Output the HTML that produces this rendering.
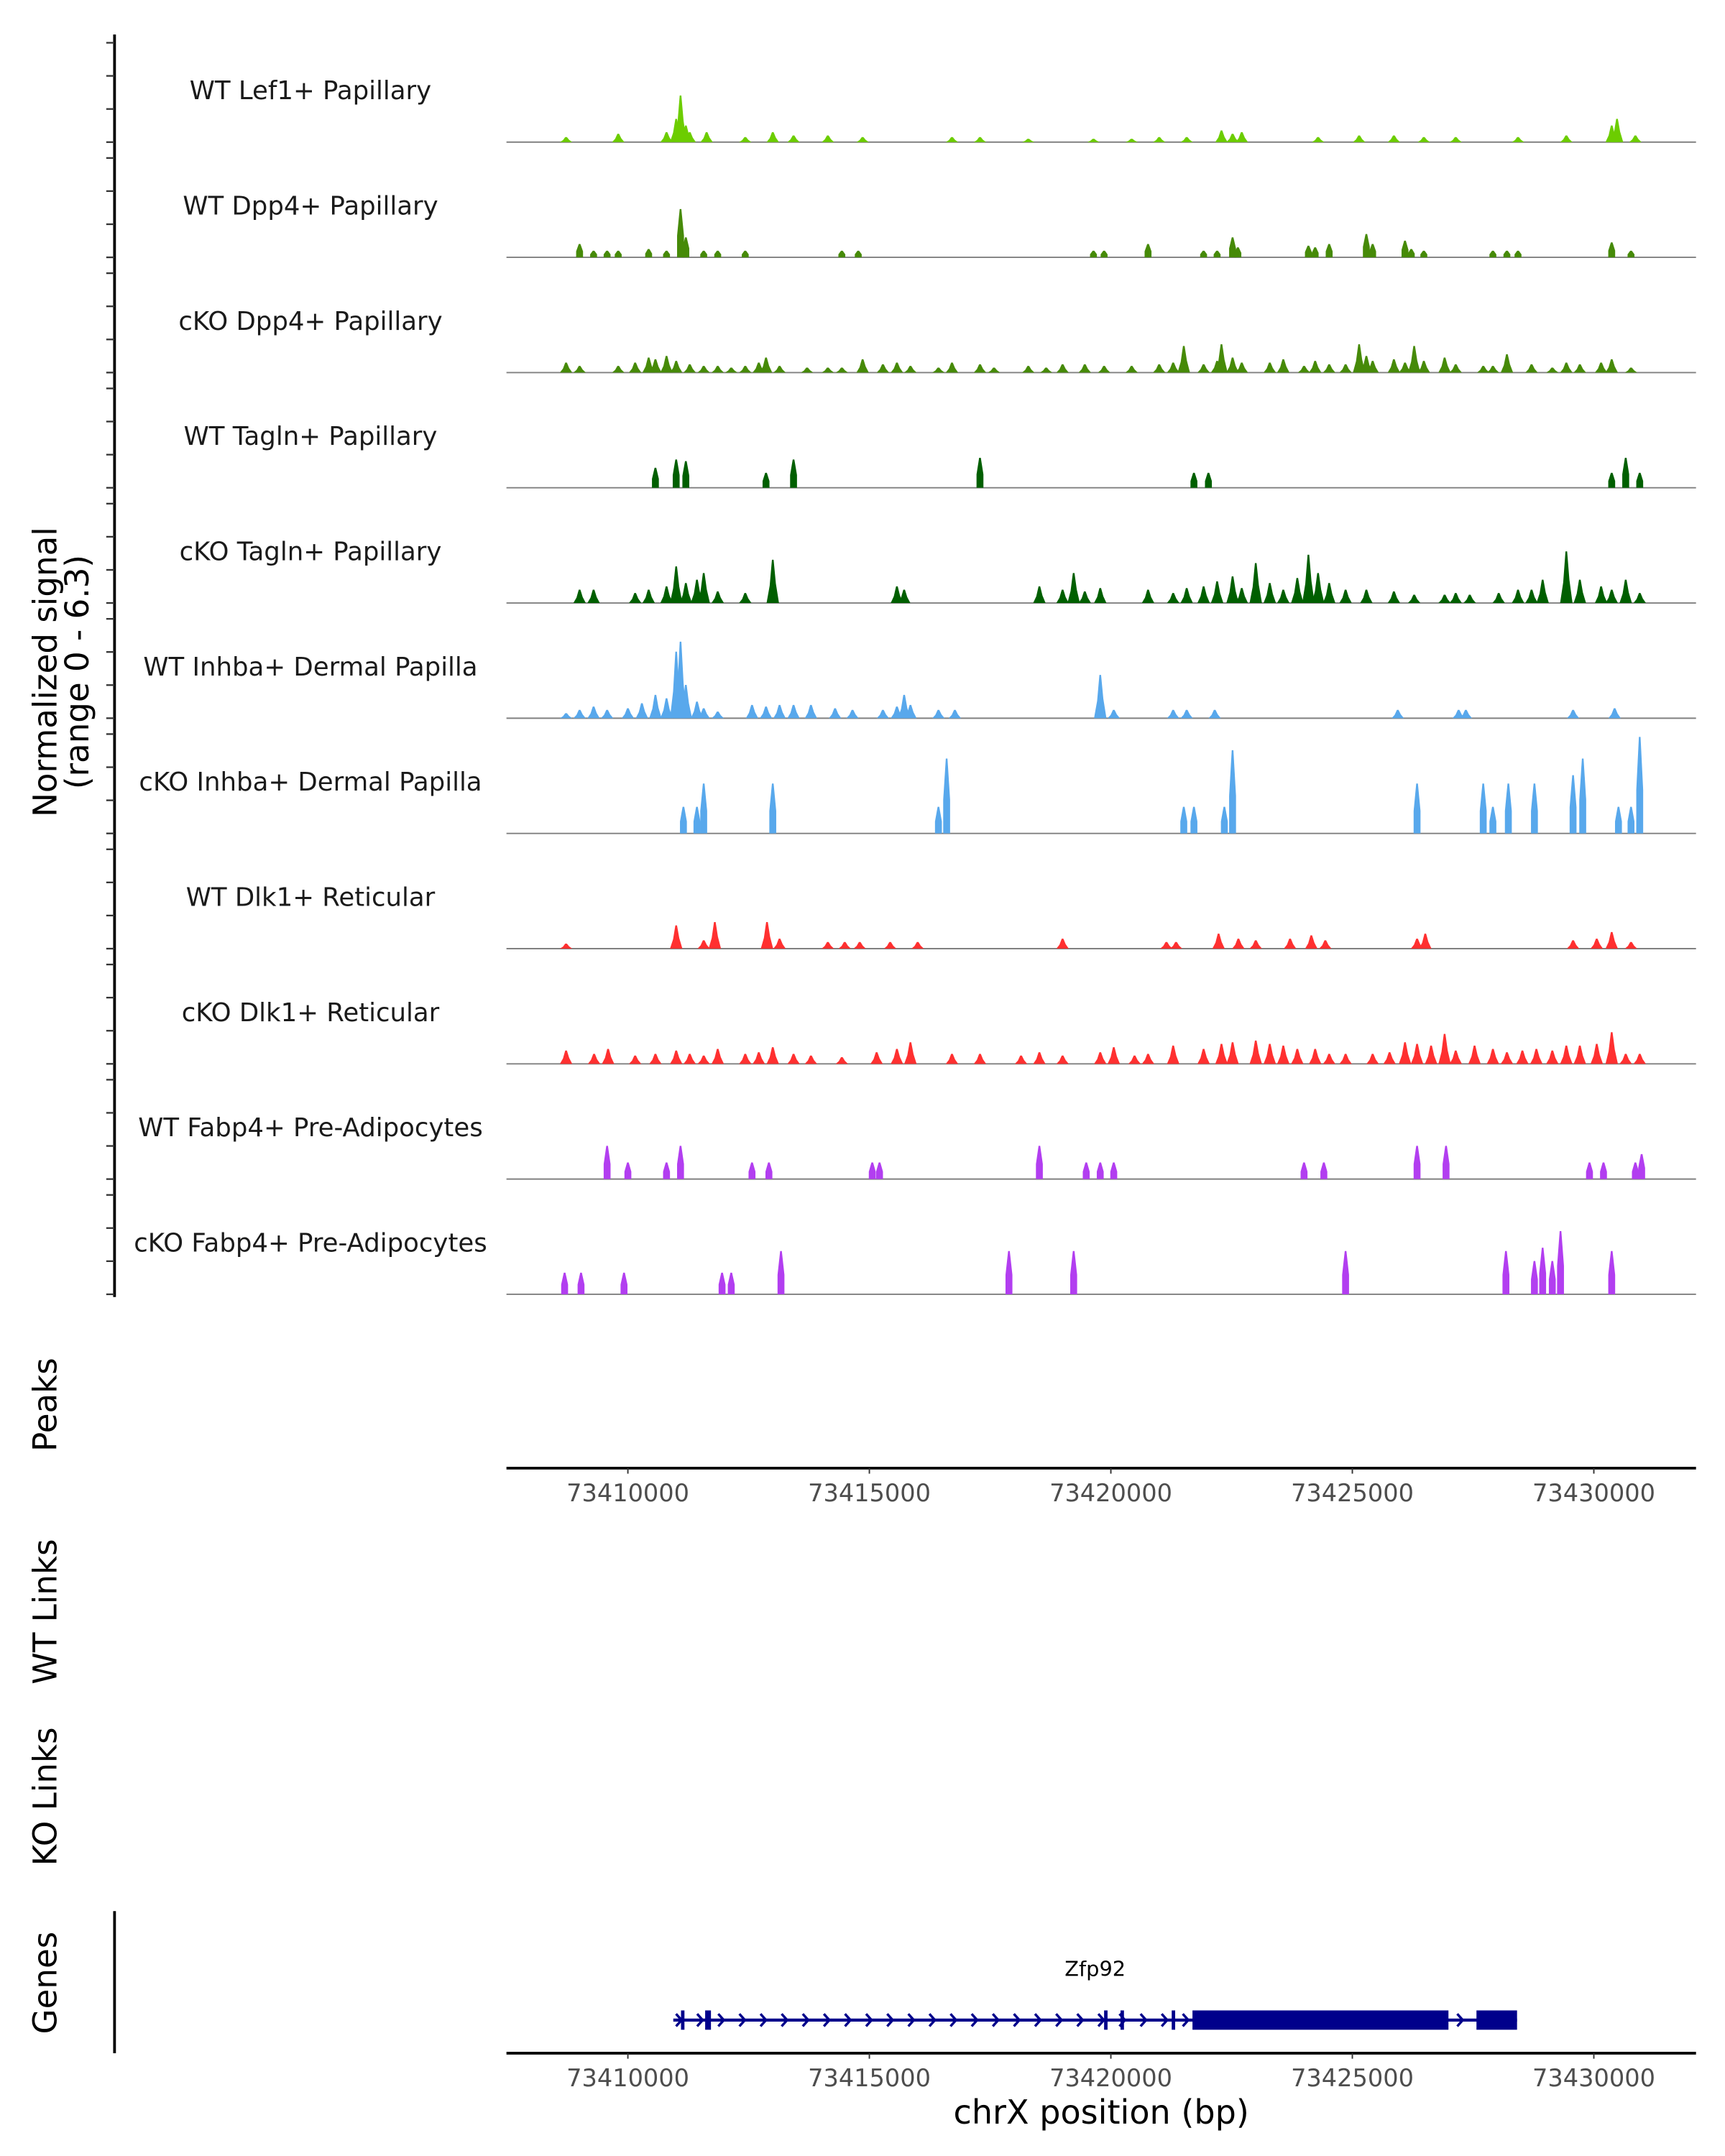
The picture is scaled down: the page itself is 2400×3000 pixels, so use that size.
<!DOCTYPE html>
<html><head><meta charset="utf-8"><style>
html,body{margin:0;padding:0;background:#fff;}
svg{display:block;font-family:"DejaVu Sans","Liberation Sans",sans-serif;}
</style></head><body>
<svg id="chart" width="2400" height="3000" viewBox="0 0 1250 1562.5" xmlns="http://www.w3.org/2000/svg">
<g id="axes"></g>
<g id="tracks"></g>
<g id="genes"></g>
</svg>
<script>
const trackNames = ["WT Lef1+ Papillary","WT Dpp4+ Papillary","cKO Dpp4+ Papillary","WT Tagln+ Papillary","cKO Tagln+ Papillary","WT Inhba+ Dermal Papilla","cKO Inhba+ Dermal Papilla","WT Dlk1+ Reticular","cKO Dlk1+ Reticular","WT Fabp4+ Pre-Adipocytes","cKO Fabp4+ Pre-Adipocytes"];
const trackColors = ["#6ccd00","#468a08","#468a08","#005f00","#005f00","#58a8ec","#58a8ec","#ff3030","#ff3030","#b23ef0","#b23ef0"];
const trackBlock = [false,true,false,true,false,false,true,false,false,true,true];
// peaks: [kb offset from 73400000, normalized signal]
const t0 = [[8.72,0.3],[9.80,0.5],[10.80,0.6],[11.00,1.4],[11.09,2.8],[11.20,1.0],[11.28,0.6],[11.63,0.6],[12.43,0.3],[13.00,0.6],[13.43,0.4],[14.14,0.4],[14.86,0.3],[16.71,0.3],[17.29,0.3],[18.29,0.2],[19.64,0.2],[20.43,0.2],[21.00,0.3],[21.57,0.3],[22.29,0.7],[22.52,0.5],[22.71,0.6],[24.29,0.3],[25.14,0.4],[25.86,0.4],[26.48,0.3],[27.14,0.3],[28.43,0.3],[29.43,0.4],[30.37,1.0],[30.48,1.4],[30.86,0.4]];
const t1 = [[9.00,0.8],[9.29,0.4],[9.57,0.4],[9.80,0.4],[10.43,0.5],[10.80,0.4],[11.09,2.9],[11.20,1.2],[11.57,0.4],[11.86,0.4],[12.43,0.4],[14.43,0.4],[14.77,0.4],[19.64,0.4],[19.86,0.4],[20.77,0.8],[21.92,0.4],[22.20,0.4],[22.52,1.2],[22.63,0.6],[24.09,0.7],[24.23,0.6],[24.52,0.8],[25.29,1.4],[25.42,0.8],[26.09,1.0],[26.22,0.5],[26.48,0.4],[27.91,0.4],[28.20,0.4],[28.43,0.4],[30.37,0.9],[30.77,0.4]];
const t2 = [[8.72,0.6],[9.00,0.4],[9.80,0.4],[10.15,0.6],[10.43,0.9],[10.57,0.8],[10.80,1.0],[11.00,0.7],[11.28,0.5],[11.57,0.4],[11.86,0.4],[12.14,0.3],[12.43,0.4],[12.71,0.6],[12.86,0.9],[13.14,0.4],[13.71,0.3],[14.14,0.3],[14.43,0.3],[14.86,0.8],[15.28,0.5],[15.57,0.6],[15.85,0.4],[16.43,0.3],[16.71,0.6],[17.29,0.5],[17.58,0.3],[18.29,0.4],[18.66,0.3],[19.00,0.5],[19.46,0.5],[19.86,0.4],[20.43,0.4],[21.00,0.5],[21.29,0.6],[21.51,1.6],[21.92,0.5],[22.20,0.7],[22.29,1.7],[22.52,0.9],[22.71,0.6],[23.29,0.6],[23.57,0.8],[24.00,0.4],[24.23,0.7],[24.52,0.5],[24.86,0.5],[25.14,1.7],[25.29,1.0],[25.42,0.7],[25.86,0.8],[26.09,0.6],[26.28,1.6],[26.48,0.7],[26.91,0.9],[27.14,0.5],[27.71,0.4],[27.91,0.4],[28.20,1.1],[28.71,0.5],[29.14,0.3],[29.43,0.6],[29.71,0.5],[30.15,0.6],[30.37,0.8],[30.77,0.3]];
const t3 = [[10.57,1.2],[11.00,1.7],[11.20,1.6],[12.86,0.9],[13.43,1.7],[17.29,1.8],[21.72,0.9],[22.02,0.9],[30.37,0.9],[30.66,1.8],[30.95,0.9]];
const t4 = [[9.00,0.8],[9.29,0.8],[10.15,0.6],[10.43,0.8],[10.80,1.0],[11.00,2.2],[11.20,1.2],[11.43,1.4],[11.57,1.8],[11.86,0.7],[12.43,0.6],[13.00,2.6],[15.57,1.0],[15.72,0.8],[18.52,1.0],[19.00,0.8],[19.23,1.8],[19.46,0.7],[19.78,0.9],[20.77,0.8],[21.29,0.6],[21.57,0.9],[21.92,1.0],[22.20,1.3],[22.52,1.6],[22.71,0.9],[23.00,2.4],[23.29,1.2],[23.57,0.8],[23.86,1.5],[24.09,2.9],[24.29,1.8],[24.52,1.2],[24.86,0.8],[25.29,0.8],[25.86,0.7],[26.28,0.5],[26.91,0.5],[27.14,0.6],[27.43,0.5],[28.03,0.6],[28.43,0.8],[28.71,0.8],[28.94,1.4],[29.43,3.1],[29.71,1.4],[30.15,1.0],[30.37,0.8],[30.66,1.4],[30.95,0.6]];
const t5 = [[8.72,0.3],[9.00,0.5],[9.29,0.7],[9.57,0.5],[10.00,0.6],[10.29,0.9],[10.57,1.4],[10.80,1.2],[11.00,4.0],[11.09,4.6],[11.20,2.0],[11.43,1.0],[11.57,0.6],[11.86,0.4],[12.57,0.8],[12.86,0.7],[13.14,0.8],[13.43,0.8],[13.79,0.8],[14.29,0.6],[14.65,0.5],[15.28,0.5],[15.57,0.7],[15.72,1.4],[15.85,0.8],[16.43,0.5],[16.77,0.5],[19.78,2.6],[20.06,0.5],[21.29,0.5],[21.57,0.5],[22.15,0.5],[25.94,0.5],[27.20,0.5],[27.35,0.5],[29.57,0.5],[30.43,0.6]];
const t6 = [[11.15,1.6],[11.43,1.6],[11.57,3.0],[13.00,3.0],[16.43,1.6],[16.60,4.5],[21.51,1.6],[21.72,1.6],[22.35,1.6],[22.52,5.0],[26.34,3.0],[27.71,3.0],[27.91,1.6],[28.23,3.0],[28.77,3.0],[29.57,3.5],[29.77,4.5],[30.51,1.6],[30.77,1.6],[30.95,5.8]];
const t7 = [[8.72,0.3],[11.00,1.4],[11.57,0.5],[11.80,1.6],[12.88,1.6],[13.14,0.6],[14.14,0.4],[14.49,0.4],[14.80,0.4],[15.43,0.4],[16.00,0.4],[19.00,0.6],[21.15,0.4],[21.35,0.4],[22.23,0.9],[22.64,0.6],[23.00,0.5],[23.71,0.6],[24.15,0.8],[24.44,0.5],[26.34,0.6],[26.51,0.9],[29.57,0.5],[30.06,0.6],[30.37,1.0],[30.77,0.4]];
const t8 = [[8.72,0.8],[9.30,0.6],[9.59,0.9],[10.15,0.5],[10.57,0.6],[11.00,0.8],[11.28,0.6],[11.57,0.5],[11.86,0.9],[12.43,0.6],[12.71,0.7],[13.00,1.0],[13.43,0.6],[13.79,0.5],[14.43,0.4],[15.15,0.7],[15.57,0.9],[15.85,1.3],[16.71,0.6],[17.29,0.6],[18.14,0.5],[18.52,0.7],[19.00,0.5],[19.78,0.7],[20.06,1.0],[20.49,0.5],[20.77,0.6],[21.29,1.1],[21.92,0.9],[22.29,1.2],[22.52,1.3],[23.00,1.4],[23.29,1.2],[23.57,1.1],[23.86,0.9],[24.23,0.9],[24.52,0.6],[24.86,0.6],[25.42,0.6],[25.77,0.7],[26.09,1.3],[26.34,1.2],[26.63,1.1],[26.91,1.8],[27.14,0.8],[27.53,1.1],[27.91,0.9],[28.20,0.7],[28.52,0.8],[28.81,0.9],[29.14,0.8],[29.43,1.1],[29.71,1.1],[30.06,1.2],[30.37,1.9],[30.66,0.6],[30.95,0.6]];
const t9 = [[9.57,2.0],[10.00,1.0],[10.80,1.0],[11.09,2.0],[12.57,1.0],[12.92,1.0],[15.06,1.0],[15.21,1.0],[18.52,2.0],[19.49,1.0],[19.78,1.0],[20.06,1.0],[24.00,1.0],[24.41,1.0],[26.34,2.0],[26.94,2.0],[29.91,1.0],[30.20,1.0],[30.86,1.0],[30.99,1.5]];
const t10 = [[8.69,1.3],[9.03,1.3],[9.92,1.3],[11.95,1.3],[12.14,1.3],[13.17,2.6],[17.89,2.6],[19.23,2.6],[24.86,2.6],[28.18,2.6],[28.77,2.0],[28.94,2.8],[29.14,2.0],[29.31,3.8],[30.37,2.6]];
const trackData = [t0,t1,t2,t3,t4,t5,t6,t7,t8,t9,t10];
const tickValues = [73410000,73415000,73420000,73425000,73430000];
const geneName = "Zfp92";
const geneStart = 10.94, geneEnd = 28.41;
const geneExons = [[11.10,11.16],[11.60,11.72],[19.86,19.92],[20.20,20.26],[21.26,21.32],[21.69,26.99],[27.57,28.41]];

const NS="http://www.w3.org/2000/svg";
function el(tag,attrs,parent){const e=document.createElementNS(NS,tag);for(const k in attrs)e.setAttribute(k,attrs[k]);parent.appendChild(e);return e;}
const X0=7.486,X1=32.03,PX0=367,PX1=1226;
function xs(kb){return PX0+(kb-X0)/(X1-X0)*(PX1-PX0);}
function xbp(bp){return xs((bp-73400000)/1000);}
const YMAX=6.3, TH=76;
function base(i){return 103+i*83.5;}
function ys(v,i){return base(i)-v/YMAX*TH;}

const axes=document.getElementById('axes');
const tracks=document.getElementById('tracks');
const genes=document.getElementById('genes');

let a=el('line',{x1:83,y1:25,x2:83,y2:940,stroke:'#000','stroke-width':2},axes);


for(let i=0;i<11;i++){for(let k=0;k<4;k++){
 const y=base(i)-k*24;
 const t=el('line',{x1:77,y1:y,x2:83,y2:y,stroke:'#333','stroke-width':1.2},axes);
 
 
}}
let yt=el('text',{transform:'translate(41,487) rotate(-90)','text-anchor':'middle','font-size':23.5,fill:'#000'},axes);


el('tspan',{x:0,dy:0},yt).textContent='Normalized signal';
el('tspan',{x:0,dy:23},yt).textContent='(range 0 - 6.3)';

for(let i=0;i<11;i++){
 const g=el('g',{},tracks);
 
 
 const lb=el('text',{x:225,y:base(i)-31,'text-anchor':'middle','font-size':18.5,fill:'#1a1a1a'},g);
 
 
 lb.textContent=trackNames[i];
 const bl=el('line',{x1:PX0,y1:base(i),x2:PX1+3,y2:base(i),stroke:'#808080','stroke-width':1},g);
 
 
 const b=base(i);
 trackData[i].forEach(([kb,v])=>{
  const cx=xs(kb), top=ys(v,i);
  let pts;
  if(trackBlock[i]){
   const w=5, shoulder=b-(b-top)*0.45;
   pts=[[cx-w/2,b],[cx-w/2,shoulder],[cx-0.6,top],[cx+0.6,top],[cx+w/2,shoulder],[cx+w/2,b]];
  } else {
   const w=9;
   pts=[[cx-w/2,b],[cx-w/4,b-(b-top)*0.4],[cx-0.6,top],[cx+0.6,top],[cx+w/4,b-(b-top)*0.45],[cx+w/2,b]];
  }
  const p=el('polygon',{points:pts.map(q=>q.join(',')).join(' '),fill:trackColors[i]},g);
  
  
 });
}

[["Peaks",1018],["WT Links",1168],["KO Links",1302],["Genes",1437]].forEach(([t,y])=>{
 const e=el('text',{transform:'translate(41,'+y+') rotate(-90)','text-anchor':'middle','font-size':23.5,fill:'#000'},axes);
 
 
 e.textContent=t;
});

function xAxis(y,name){
 const g=el('g',{},axes);
 
 
 el('line',{x1:PX0,y1:y,x2:PX1+3,y2:y,stroke:'#000','stroke-width':2},g);
 tickValues.forEach(v=>{
  const x=xbp(v);
  el('line',{x1:x,y1:y,x2:x,y2:y+4,stroke:'#333','stroke-width':1},g);
  const t=el('text',{x:x,y:y+24,'text-anchor':'middle','font-size':17.5,fill:'#4d4d4d'},g);
  
  
  t.textContent=v;
 });
}
xAxis(1064,'peaks-x-axis');
xAxis(1488,'genes-x-axis');
let xt=el('text',{x:798,y:1539,'text-anchor':'middle','font-size':24,fill:'#000'},axes);


xt.textContent='chrX position (bp)';

let ga=el('line',{x1:83,y1:1385,x2:83,y2:1488,stroke:'#000','stroke-width':2},axes);



const gy=1464, col='#00008b';
let gl=el('text',{x:(xs(geneStart)+xs(geneEnd))/2,y:1432,'text-anchor':'middle','font-size':15,fill:'#000'},genes);


gl.textContent=geneName;
let intr=el('line',{x1:xs(geneStart),y1:gy,x2:xs(geneEnd),y2:gy,stroke:col,'stroke-width':2.2},genes);


for(let x=xs(geneStart)+4;x<xs(geneEnd);x+=15.3){
 const ar=el('polyline',{points:(x-2)+','+(gy-4.5)+' '+(x+2)+','+gy+' '+(x-2)+','+(gy+4.5),fill:'none',stroke:col,'stroke-width':1.8},genes);
 
 
}
geneExons.forEach(([s,e])=>{
 const x1=xs(s),x2=Math.max(xs(e),x1+2.5);
 const r=el('rect',{x:x1,y:gy-7,width:x2-x1,height:14,fill:col},genes);
 
 
});
</script>
</body></html>
